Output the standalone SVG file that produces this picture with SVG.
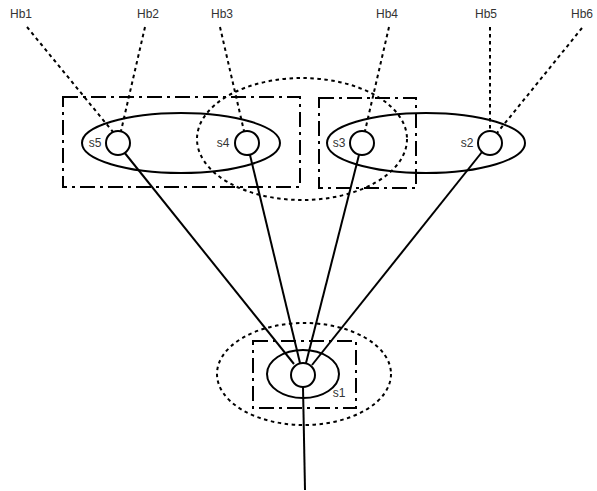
<svg xmlns="http://www.w3.org/2000/svg" width="597" height="491" viewBox="0 0 597 491">
<style>
.solid{fill:none;stroke:#000;stroke-width:2}
.dot{fill:none;stroke:#000;stroke-width:2;stroke-dasharray:3.5,3.5}
.dd{fill:none;stroke:#000;stroke-width:2;stroke-dasharray:15,5,3,5}
.node{fill:#fff;stroke:#000;stroke-width:2}
text{font-family:"Liberation Sans",Arial,sans-serif;font-size:12px;fill:#333}
.c{text-anchor:middle}
</style>
<rect width="597" height="491" fill="#fff"/>
<g id="groups">
<rect class="dd" x="63" y="97" width="237" height="90"/>
<rect class="dd" x="319" y="98" width="97" height="90"/>
<ellipse class="solid" cx="181" cy="143" rx="99" ry="30"/>
<ellipse class="solid" cx="426" cy="143" rx="99" ry="30"/>
<ellipse class="dot" cx="302" cy="139" rx="105" ry="61"/>
<ellipse class="dot" cx="304" cy="374" rx="87" ry="51"/>
<rect class="dd" x="253" y="341" width="103" height="67"/>
<ellipse class="solid" cx="303" cy="374" rx="36" ry="24"/>
</g>
<g id="connectors">
<line class="dot" x1="27" y1="27" x2="113" y2="132"/>
<line class="dot" x1="145" y1="27" x2="121" y2="131"/>
<line class="dot" x1="220" y1="27" x2="244" y2="131"/>
<line class="dot" x1="389" y1="27" x2="365" y2="131"/>
<line class="dot" x1="490" y1="27" x2="490" y2="131"/>
<line class="dot" x1="582" y1="28" x2="497" y2="133"/>
<line class="solid" x1="124" y1="152" x2="294" y2="364"/>
<line class="solid" x1="250" y1="155" x2="300" y2="363"/>
<line class="solid" x1="359" y1="155" x2="306" y2="363"/>
<line class="solid" x1="482" y1="152" x2="312" y2="365"/>
<line class="solid" x1="303" y1="387" x2="305" y2="490"/>
</g>
<g id="s5"><circle class="node" cx="118" cy="143" r="12"/><text x="95" y="147" class="c">s5</text></g>
<g id="s4"><circle class="node" cx="247" cy="143" r="12"/><text x="223" y="147" class="c">s4</text></g>
<g id="s3"><circle class="node" cx="362" cy="143" r="12"/><text x="339" y="147" class="c">s3</text></g>
<g id="s2"><circle class="node" cx="490" cy="143" r="12"/><text x="467" y="147" class="c">s2</text></g>
<g id="s1"><circle class="node" cx="303" cy="375" r="12"/><text x="339" y="397" class="c">s1</text></g>
<g id="Hb1"><text x="21" y="18" class="c">Hb1</text></g>
<g id="Hb2"><text x="148" y="18" class="c">Hb2</text></g>
<g id="Hb3"><text x="222" y="18" class="c">Hb3</text></g>
<g id="Hb4"><text x="387" y="18" class="c">Hb4</text></g>
<g id="Hb5"><text x="486" y="18" class="c">Hb5</text></g>
<g id="Hb6"><text x="582" y="18" class="c">Hb6</text></g>
</svg>
